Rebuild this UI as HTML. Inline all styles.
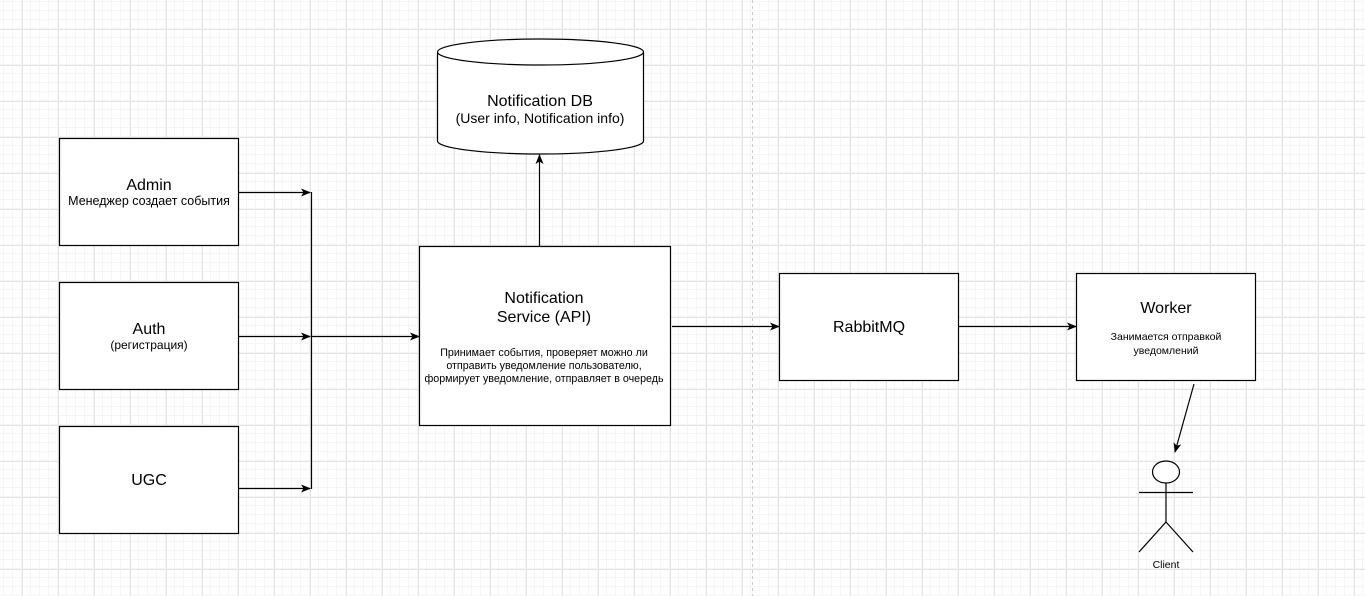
<!DOCTYPE html>
<html><head><meta charset="utf-8"><style>
html,body{margin:0;padding:0}
body{width:1365px;height:596px;overflow:hidden;background:#fff;position:relative;font-family:"Liberation Sans","DejaVu Sans",sans-serif}
</style></head><body>
<svg width="1365" height="596" xmlns="http://www.w3.org/2000/svg" style="position:absolute;left:0;top:0">
<defs>
<pattern id="minor" x="-14" y="-7" width="9" height="9" patternUnits="userSpaceOnUse"><path d="M8.5 0V9M0 8.5H9" stroke="#f5f5f5" stroke-width="1" fill="none"/></pattern>
<pattern id="major" x="-14" y="-7" width="36" height="36" patternUnits="userSpaceOnUse"><path d="M0.5 0V36M0 0.5H36" stroke="#e4e4e4" stroke-width="1" fill="none"/></pattern>
<marker id="a" markerWidth="10" markerHeight="8" refX="9" refY="4" orient="auto" markerUnits="userSpaceOnUse"><path d="M0,0 L10,4 L0,8 L2.5,4 z" fill="#000"/></marker>
</defs>
<rect width="1365" height="596" fill="url(#minor)"/>
<rect width="1365" height="596" fill="url(#major)"/>
<line x1="752.5" y1="0" x2="752.5" y2="596" stroke="#ccc" stroke-dasharray="3,3"/>
<g fill="#fff" stroke="#000" stroke-width="1.2">
<rect x="59.5" y="138.5" width="179" height="107"/>
<rect x="59.5" y="282.5" width="179" height="107"/>
<rect x="59.5" y="426.5" width="179" height="107"/>
<rect x="419.5" y="246.5" width="251" height="179"/>
<rect x="779.5" y="273.5" width="179" height="107"/>
<rect x="1076.5" y="273.5" width="179" height="107"/>
<path d="M437.5 52 A103 13 0 0 1 643.5 52 V141 A103 13 0 0 1 437.5 141 Z"/>
<path d="M437.5 52 A103 13 0 0 0 643.5 52" fill="none"/>
</g>
<g stroke="#000" stroke-width="1.2" fill="none">
<line x1="238.5" y1="192.5" x2="310" y2="192.5" marker-end="url(#a)"/>
<line x1="238.5" y1="336.5" x2="310" y2="336.5" marker-end="url(#a)"/>
<line x1="238.5" y1="488.5" x2="310" y2="488.5" marker-end="url(#a)"/>
<line x1="311.5" y1="192" x2="311.5" y2="489"/>
<line x1="311" y1="336.5" x2="419" y2="336.5" marker-end="url(#a)"/>
<line x1="539.5" y1="246" x2="539.5" y2="155" marker-end="url(#a)"/>
<line x1="672" y1="326.5" x2="779" y2="326.5" marker-end="url(#a)"/>
<line x1="958.5" y1="326.5" x2="1076" y2="326.5" marker-end="url(#a)"/>
<line x1="1194" y1="384" x2="1175" y2="452" marker-end="url(#a)"/>
<ellipse cx="1166" cy="472" rx="13.5" ry="11" fill="#fff"/>
<line x1="1139" y1="492.5" x2="1193" y2="492.5"/>
<line x1="1166" y1="483" x2="1166" y2="522"/>
<path d="M1139 552 L1166 522 L1193 552"/>
</g>
<g font-family="Liberation Sans, DejaVu Sans, sans-serif" text-anchor="middle" fill="#000">
<text x="149" y="190" font-size="16">Admin</text>
<text x="149" y="205" font-size="12.5">Менеджер создает события</text>
<text x="149" y="334" font-size="16">Auth</text>
<text x="149" y="349" font-size="12">(регистрация)</text>
<text x="149" y="485" font-size="16">UGC</text>
<text x="544" y="303" font-size="16">Notification</text>
<text x="544" y="322" font-size="16">Service (API)</text>
<text x="544" y="356" font-size="10.7">Принимает события, проверяет можно ли</text>
<text x="544" y="369" font-size="10.7">отправить уведомление пользователю,</text>
<text x="544" y="382" font-size="10.7">формирует уведомление, отправляет в очередь</text>
<text x="869" y="332" font-size="16">RabbitMQ</text>
<text x="1166" y="313" font-size="16">Worker</text>
<text x="1166" y="340" font-size="10.5">Занимается отправкой</text>
<text x="1166" y="354" font-size="10.5">уведомлений</text>
<text x="540" y="106" font-size="16">Notification DB</text>
<text x="540" y="123" font-size="14">(User info, Notification info)</text>
<text x="1166" y="568" font-size="10.5">Client</text>
</g>
</svg>
</body></html>
